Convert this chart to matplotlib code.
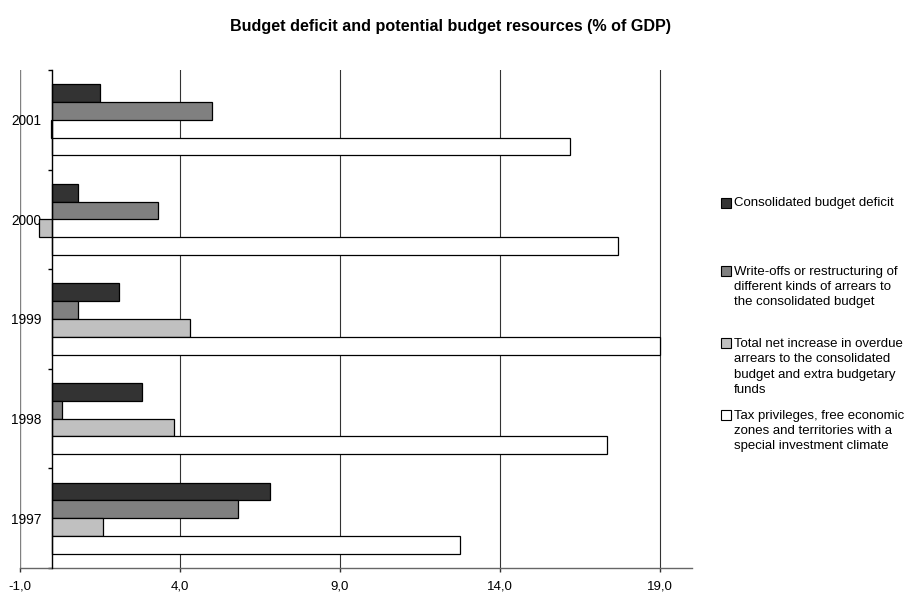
import matplotlib
matplotlib.use("Agg")
import matplotlib.pyplot as plt
from matplotlib.patches import Rectangle
import numpy as np

plt.rcParams['font.family'] = ['Liberation Sans', 'DejaVu Sans']

years = ["1997", "1998", "1999", "2000", "2001"]

deficit = [6.8, 2.8, 2.1, 0.8, 1.5]
write_offs = [5.8, 0.3, 0.8, 3.3, 5.0]
overdue = [1.6, 3.8, 4.3, -0.4, -0.03]
tax_privileges = [12.75, 17.35, 19.0, 17.7, 16.2]

series_names = [
    "Consolidated budget deficit",
    "Write-offs or restructuring of\ndifferent kinds of arrears to\nthe consolidated budget",
    "Total net increase in overdue\narrears to the consolidated\nbudget and extra budgetary\nfunds",
    "Tax privileges, free economic\nzones and territories with a\nspecial investment climate",
]
series_values = [deficit, write_offs, overdue, tax_privileges]
series_colors = ["#333333", "#808080", "#c0c0c0", "#ffffff"]

x_ticks = [-1.0, 4.0, 9.0, 14.0, 19.0]
x_tick_labels = ["-1,0", "4,0", "9,0", "14,0", "19,0"]

title = "Budget deficit and potential budget resources (% of GDP)"

W, H = 911, 593
fig = plt.figure(figsize=(W / 100, H / 100), dpi=100)
ax = fig.add_axes([20 / W, 25 / H, 672 / W, 498 / H])

y = np.arange(len(years))
h = 0.714 / 4
offsets = [1.5 * h, 0.5 * h, -0.5 * h, -1.5 * h]

for vals, col, off in zip(series_values, series_colors, offsets):
    ax.barh(y + off, vals, height=h, color=col, edgecolor="black",
            linewidth=0.9, zorder=3)

ax.set_xlim(-1, 20)
ax.set_ylim(-0.5, len(years) - 0.5)

# vertical gridlines
for xt in x_ticks[1:]:
    ax.axvline(xt, color="#333333", linewidth=0.8, zorder=1)

# outer left border at the axis minimum
ax.axvline(-1, color="#808080", linewidth=1.0, zorder=1)

for s in ["top", "right"]:
    ax.spines[s].set_visible(False)
ax.spines["bottom"].set_color("#666666")
ax.spines["bottom"].set_linewidth(1.0)
ax.spines["left"].set_position(("data", 0))
ax.spines["left"].set_color("black")
ax.spines["left"].set_linewidth(1.0)
ax.spines["left"].set_zorder(4)

ax.set_xticks(x_ticks)
ax.set_xticklabels(x_tick_labels, fontsize=9.5)
ax.tick_params(axis="x", direction="out", length=3, width=1,
               color="#333333", pad=6)

ax.set_yticks(y)
ax.set_yticklabels(years, fontsize=9.8)
ax.set_yticks(np.arange(-0.5, len(years)), minor=True)
ax.tick_params(axis="y", which="major", length=0, pad=8)
ax.tick_params(axis="y", which="minor", direction="out", length=3,
               width=1, color="black")

fig.text(450 / W, 1 - 26 / H, title, ha="center", va="center",
         fontsize=11.6, fontweight="bold")

# legend drawn beside the plot
first_line_y = [203, 271, 343, 415]
line_px = 16
for name, col, yc in zip(series_names, series_colors, first_line_y):
    n_lines = name.count("\n") + 1
    fig.patches.append(Rectangle(((721) / W, 1 - (yc + 5) / H), 10 / W, 10 / H,
                                 transform=fig.transFigure, facecolor=col,
                                 edgecolor="black", linewidth=0.8))
    block_center = yc + (n_lines - 1) * line_px / 2
    fig.text(734 / W, 1 - block_center / H, name, ha="left", va="center",
             fontsize=9.5, linespacing=1.37)

fig.savefig("out.png", dpi=100)
